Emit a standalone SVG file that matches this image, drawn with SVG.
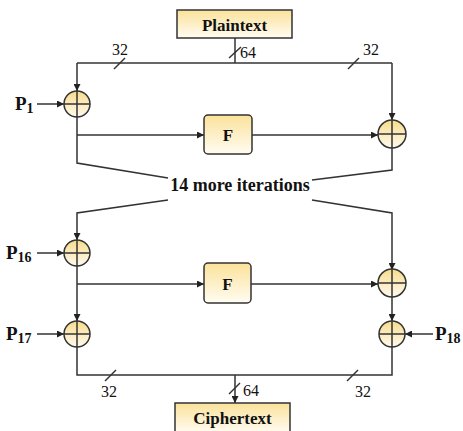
<svg xmlns="http://www.w3.org/2000/svg" width="463" height="431" viewBox="0 0 463 431">
<style>
.ln{fill:none;stroke:#333;stroke-width:1.5}
.arr{marker-end:url(#ah)}
.box{stroke:#333;stroke-width:1.5;fill:url(#gb)}
.xor{stroke:#333;stroke-width:1.5;fill:url(#gc)}
.bt{font-family:"Liberation Serif",serif;font-weight:bold;fill:#111}
.nt{font-family:"Liberation Serif",serif;font-size:16px;fill:#111}
</style>
<defs>
<linearGradient id="gb" x1="0" y1="0" x2="0" y2="1"><stop offset="0" stop-color="#fbe29a"/><stop offset="1" stop-color="#fffcf2"/></linearGradient>
<linearGradient id="gc" x1="0" y1="0" x2="0" y2="1"><stop offset="0" stop-color="#f8dc8c"/><stop offset="1" stop-color="#fffaf0"/></linearGradient>
<marker id="ah" viewBox="0 0 10 10" refX="10" refY="5" markerWidth="7" markerHeight="7" markerUnits="userSpaceOnUse" orient="auto"><path d="M0,0L10,5L0,10z" fill="#222"/></marker>
</defs>
<g id="connectors">
<line class="ln" x1="235" y1="38" x2="235" y2="63"/>
<polyline class="ln" points="77,63 392,63"/>
<line class="ln arr" x1="77" y1="63" x2="77" y2="91"/>
<line class="ln arr" x1="392" y1="63" x2="392" y2="120"/>
<line class="ln" x1="229" y1="58" x2="241" y2="47"/>
<line class="ln" x1="114" y1="69" x2="125" y2="58"/>
<line class="ln" x1="348" y1="69" x2="359" y2="58"/>
<line class="ln arr" x1="37" y1="104" x2="64" y2="104"/>
<line class="ln arr" x1="77" y1="135" x2="204" y2="135"/>
<line class="ln arr" x1="252" y1="135" x2="378" y2="135"/>
<polyline class="ln" points="77,117 77,163 168,178"/>
<polyline class="ln" points="392,148 392,170 312,180"/>
<polyline class="ln arr" points="168,200 77,213 77,240"/>
<polyline class="ln arr" points="312,200 392,213 392,270"/>
<line class="ln arr" x1="37" y1="253" x2="64" y2="253"/>
<line class="ln arr" x1="77" y1="284" x2="204" y2="284"/>
<line class="ln arr" x1="251" y1="284" x2="378" y2="284"/>
<line class="ln arr" x1="77" y1="266" x2="77" y2="321"/>
<line class="ln arr" x1="392" y1="297" x2="392" y2="321"/>
<line class="ln arr" x1="37" y1="334" x2="64" y2="334"/>
<line class="ln arr" x1="433" y1="334" x2="405" y2="334"/>
<polyline class="ln" points="77,347 77,375 392,375 392,347"/>
<line class="ln" x1="105" y1="381" x2="116" y2="370"/>
<line class="ln" x1="347" y1="381" x2="358" y2="370"/>
<line class="ln arr" x1="235" y1="375" x2="235" y2="403"/>
<line class="ln" x1="229" y1="394" x2="240" y2="383"/>
</g>
<g id="labels">
<text class="nt" x="120" y="55" text-anchor="middle">32</text>
<text class="nt" x="240" y="58">64</text>
<text class="nt" x="371" y="55" text-anchor="middle">32</text>
<text class="nt" x="109" y="397" text-anchor="middle">32</text>
<text class="nt" x="243" y="396">64</text>
<text class="nt" x="363" y="397" text-anchor="middle">32</text>
<text class="bt" x="240" y="191" font-size="18" text-anchor="middle">14 more iterations</text>
<text class="bt" x="15" y="110" font-size="19">P<tspan font-size="14" dy="3">1</tspan></text>
<text class="bt" x="6" y="259" font-size="19">P<tspan font-size="14" dy="3">16</tspan></text>
<text class="bt" x="6" y="340" font-size="19">P<tspan font-size="14" dy="3">17</tspan></text>
<text class="bt" x="435" y="340" font-size="19">P<tspan font-size="14" dy="3">18</tspan></text>
</g>
<g id="plaintext"><rect class="box" x="177" y="10" width="115" height="28"/><text class="bt" x="234.5" y="31" font-size="17" text-anchor="middle">Plaintext</text></g>
<g id="ciphertext"><rect class="box" x="175" y="403" width="115" height="30"/><text class="bt" x="232.5" y="424" font-size="17" text-anchor="middle">Ciphertext</text></g>
<g id="f1"><rect class="box" x="204" y="115" width="48" height="39" rx="4"/><text class="bt" x="228" y="141" font-size="17" text-anchor="middle">F</text></g>
<g id="f2"><rect class="box" x="204" y="263" width="47" height="40" rx="4"/><text class="bt" x="227.5" y="290" font-size="17" text-anchor="middle">F</text></g>
<g id="xor1"><circle class="xor" cx="77" cy="104" r="13"/><path class="ln" d="M64,104H90M77,91V117"/></g>
<g id="xor2"><circle class="xor" cx="392" cy="134" r="14"/><path class="ln" d="M378,134H406M392,120V148"/></g>
<g id="xor3"><circle class="xor" cx="77" cy="253" r="13"/><path class="ln" d="M64,253H90M77,240V266"/></g>
<g id="xor4"><circle class="xor" cx="392" cy="283" r="14"/><path class="ln" d="M378,283H406M392,269V297"/></g>
<g id="xor5"><circle class="xor" cx="77" cy="334" r="13"/><path class="ln" d="M64,334H90M77,321V347"/></g>
<g id="xor6"><circle class="xor" cx="392" cy="334" r="13"/><path class="ln" d="M379,334H405M392,321V347"/></g>
</svg>
